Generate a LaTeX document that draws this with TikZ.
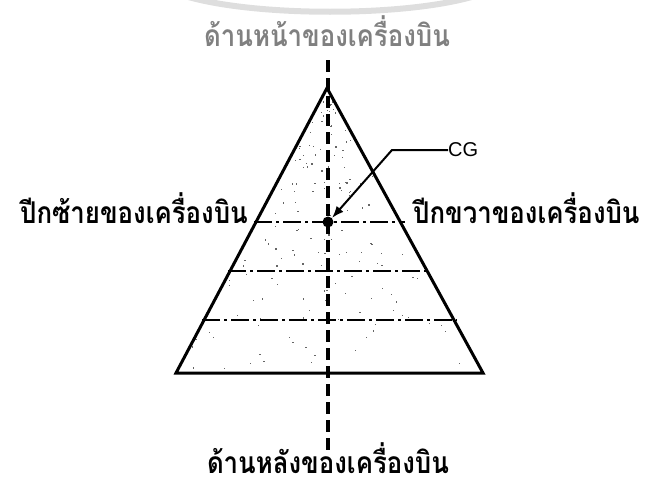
\documentclass[tikz,border=0pt]{standalone}
\usepackage{fontspec}
\usetikzlibrary{arrows.meta}
\newfontfamily\thaifont[Script=Thai]{Loma}
\setsansfont{Liberation Sans}
\newcommand\thaitext[1]{\scalebox{0.86}[1]{#1}}
\begin{document}
\begin{tikzpicture}[x=1pt,y=-1pt,
  thai/.style={font=\thaifont\bfseries\fontsize{30}{34}\selectfont, inner sep=0pt},
  edge/.style={line width=3pt, line join=miter},
  axis/.style={line width=3.6pt, dash pattern=on 12pt off 6pt},
  wingline/.style={line width=1.8pt, dash pattern=on 18pt off 4pt on 3pt off 4pt},
  leader/.style={line width=2pt},
]
\useasboundingbox (0,0) rectangle (651,490);
\draw[black!13, line width=6pt] (185,-4) .. controls (255,17) and (405,17) .. (475,-4);
\coordinate (apex) at (327,88);
\coordinate (bl) at (176,373);
\coordinate (br) at (483,373);
\coordinate (axtop) at (328,60);
\coordinate (axbot) at (328,452);
% stipple
\pgfmathsetseed{11}
\foreach \i in {1,...,160} {
  \pgfmathsetmacro{\yy}{100+270*rnd}
  \pgfmathsetmacro{\ww}{(\yy-88)*0.53}
  \pgfmathsetmacro{\xx}{327-\ww+rnd*2*\ww}
  \fill[black!60] (\xx,\yy) rectangle ++(1.3,1.3);
}
\draw[edge] (apex) -- (bl) -- (br) -- cycle;
\draw[wingline] (254,222) -- (405,222);
\draw[wingline] (228,271) -- (430,271);
\draw[wingline] (202,320) -- (457,320);
\draw[axis] (axtop) -- (axbot);
\node[circle, fill=black, inner sep=0pt, minimum size=11pt] (cg) at (328,222) {};
\node[font=\sffamily\fontsize{20}{24}\selectfont, inner sep=0pt, anchor=west] (cglabel) at (448,150) {CG};
\coordinate (bend) at (392,150);
\draw[leader, -{Latex[length=12pt,width=9pt]}] (cglabel.west) -- (bend) -- (cg.north east);
\node[thai, text=black!50, anchor=base] (front) at (327,46) {\thaitext{ด้านหน้าของเครื่องบิน}};
\node[thai, anchor=base east] (left) at (248,223) {\thaitext{ปีกซ้ายของเครื่องบิน}};
\node[thai, anchor=base west] (right) at (413,223) {\thaitext{ปีกขวาของเครื่องบิน}};
\node[thai, anchor=base] (rear) at (328,473) {\thaitext{ด้านหลังของเครื่องบิน}};
\end{tikzpicture}
\end{document}
